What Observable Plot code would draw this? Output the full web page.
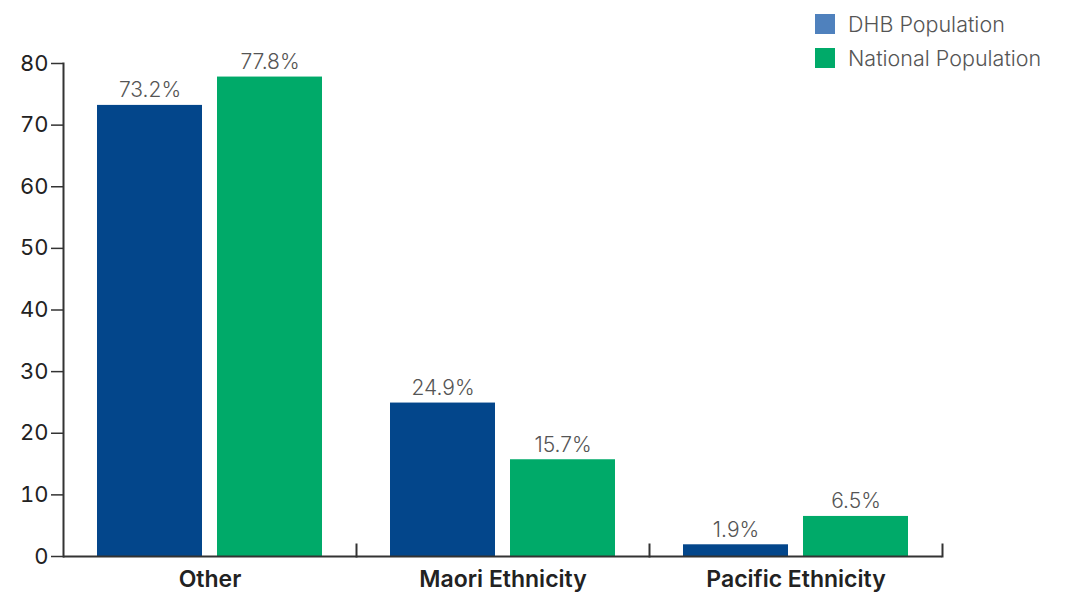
<!DOCTYPE html>
<html>
<head>
<meta charset="utf-8">
<script src="https://cdn.jsdelivr.net/npm/d3@7"></script>
<script src="https://cdn.jsdelivr.net/npm/@observablehq/plot@0.6"></script>
<style>
  html, body { margin: 0; padding: 0; background: #fff; }
  #wrap { position: relative; width: 1066px; height: 595px; font-family: Inter, "Open Sans", sans-serif; }
  #legend { position: absolute; left: 815px; top: 7px; }
  .item { display: flex; align-items: center; height: 34px; font-size: 21.5px; font-weight: 300; color: #555; }
  .swatch { width: 20px; height: 20px; margin-right: 13px; }
</style>
</head>
<body>
<div id="wrap">
  <div id="chart"></div>
  <div id="legend"></div>
</div>
<script>
// Ethnic composition: DHB population vs national population (%)
const categories = ["Other", "Maori Ethnicity", "Pacific Ethnicity"];
const series = ["DHB Population", "National Population"];
const dhbValues = [73.2, 24.9, 1.9];
const nationalValues = [77.8, 15.7, 6.5];
const yTicks = [0, 10, 20, 30, 40, 50, 60, 70, 80];
const barColors = ["#03468b", "#00aa69"];
const legendColors = ["#4f81bd", "#00aa69"];

const rows = categories.flatMap((c, i) => [
  {category: c, series: series[0], value: dhbValues[i]},
  {category: c, series: series[1], value: nationalValues[i]}
]);

const chart = Plot.plot({
  width: 1066,
  height: 595,
  marginLeft: 62,
  marginRight: 123,
  marginTop: 63,
  marginBottom: 39,
  style: {fontFamily: "Inter, 'Open Sans', sans-serif", fontSize: "20px", color: "#222", background: "white", overflow: "visible"},
  fx: {domain: categories, padding: 0, label: null, axis: null},
  x: {domain: series, axis: null, paddingInner: 0.124, paddingOuter: 0.273},
  y: {domain: [0, 80], label: null},
  color: {domain: series, range: barColors},
  marks: [
    Plot.barY(rows, {fx: "category", x: "series", y: "value", fill: "series"}),
    Plot.text(rows, {
      fx: "category", x: "series", y: "value",
      text: d => d.value.toFixed(1) + "%",
      lineAnchor: "bottom", dy: -8,
      fill: "#555", fontSize: 21, fontWeight: 300
    }),
    Plot.axisY({ticks: yTicks, tickSize: 12, tickPadding: 3, fontSize: 22, stroke: "#333", strokeWidth: 1.5, fill: "#222", label: null}),
    Plot.axisFx({anchor: "bottom", tickSize: 0, tickPadding: 14, fontSize: 23, fontWeight: 600, fill: "#222", label: null}),
    Plot.ruleY([0], {stroke: "#333", strokeWidth: 2}),
    Plot.frame({anchor: "left", facetAnchor: "left", stroke: "#333", strokeWidth: 2}),
    Plot.frame({anchor: "right", insetTop: 481, stroke: "#333", strokeWidth: 2})
  ]
});
document.getElementById("chart").appendChild(chart);

const legend = document.getElementById("legend");
series.forEach((s, i) => {
  const item = document.createElement("div");
  item.className = "item";
  item.innerHTML = `<span class="swatch" style="background:${legendColors[i]}"></span><span>${s}</span>`;
  legend.appendChild(item);
});
</script>
</body>
</html>
